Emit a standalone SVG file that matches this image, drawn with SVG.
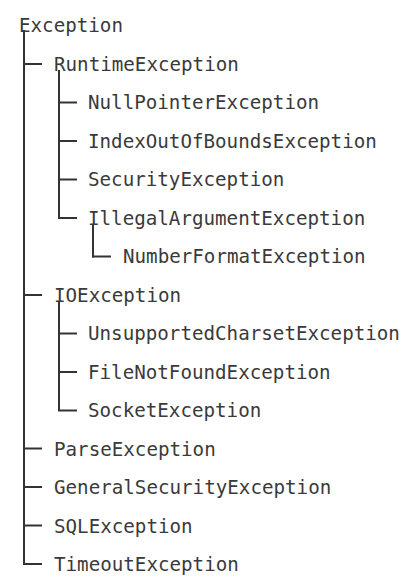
<svg xmlns="http://www.w3.org/2000/svg" width="412" height="584" viewBox="0 0 412 584">
<style>
text{font-family:"DejaVu Sans Mono","Liberation Mono",monospace;font-size:19.2px;fill:#3a3a3a}
.c line{stroke:#333;stroke-width:2}
</style>
<rect width="412" height="584" fill="#fff"/>
<g class="c" id="connectors">
<line x1="24" y1="30" x2="24" y2="565"/>
<line x1="24" y1="64" x2="42" y2="64"/>
<line x1="24" y1="295" x2="42" y2="295"/>
<line x1="24" y1="448.5" x2="42" y2="448.5"/>
<line x1="24" y1="487" x2="42" y2="487"/>
<line x1="24" y1="525.5" x2="42" y2="525.5"/>
<line x1="23" y1="564" x2="42" y2="564"/>
<line x1="59" y1="70" x2="59" y2="218.5"/>
<line x1="59" y1="102.5" x2="77" y2="102.5"/>
<line x1="59" y1="141" x2="77" y2="141"/>
<line x1="59" y1="179.5" x2="77" y2="179.5"/>
<line x1="58" y1="218" x2="77" y2="218"/>
<line x1="93" y1="224" x2="93" y2="257.5"/>
<line x1="92" y1="256.5" x2="111" y2="256.5"/>
<line x1="59" y1="301" x2="59" y2="411"/>
<line x1="59" y1="333.5" x2="77" y2="333.5"/>
<line x1="59" y1="372" x2="77" y2="372"/>
<line x1="58" y1="410.5" x2="77" y2="410.5"/>
</g>
<g id="n0"><text x="19" y="32">Exception</text></g>
<g id="n1"><text x="54" y="70.5">RuntimeException</text></g>
<g id="n2"><text x="88" y="109">NullPointerException</text></g>
<g id="n3"><text x="88" y="147.5">IndexOutOfBoundsException</text></g>
<g id="n4"><text x="88" y="186">SecurityException</text></g>
<g id="n5"><text x="88" y="224.5">IllegalArgumentException</text></g>
<g id="n6"><text x="123" y="263">NumberFormatException</text></g>
<g id="n7"><text x="54" y="301.5">IOException</text></g>
<g id="n8"><text x="88" y="340">UnsupportedCharsetException</text></g>
<g id="n9"><text x="88" y="378.5">FileNotFoundException</text></g>
<g id="n10"><text x="88" y="417">SocketException</text></g>
<g id="n11"><text x="54" y="455.5">ParseException</text></g>
<g id="n12"><text x="54" y="494">GeneralSecurityException</text></g>
<g id="n13"><text x="54" y="532.5">SQLException</text></g>
<g id="n14"><text x="54" y="571">TimeoutException</text></g>
</svg>
